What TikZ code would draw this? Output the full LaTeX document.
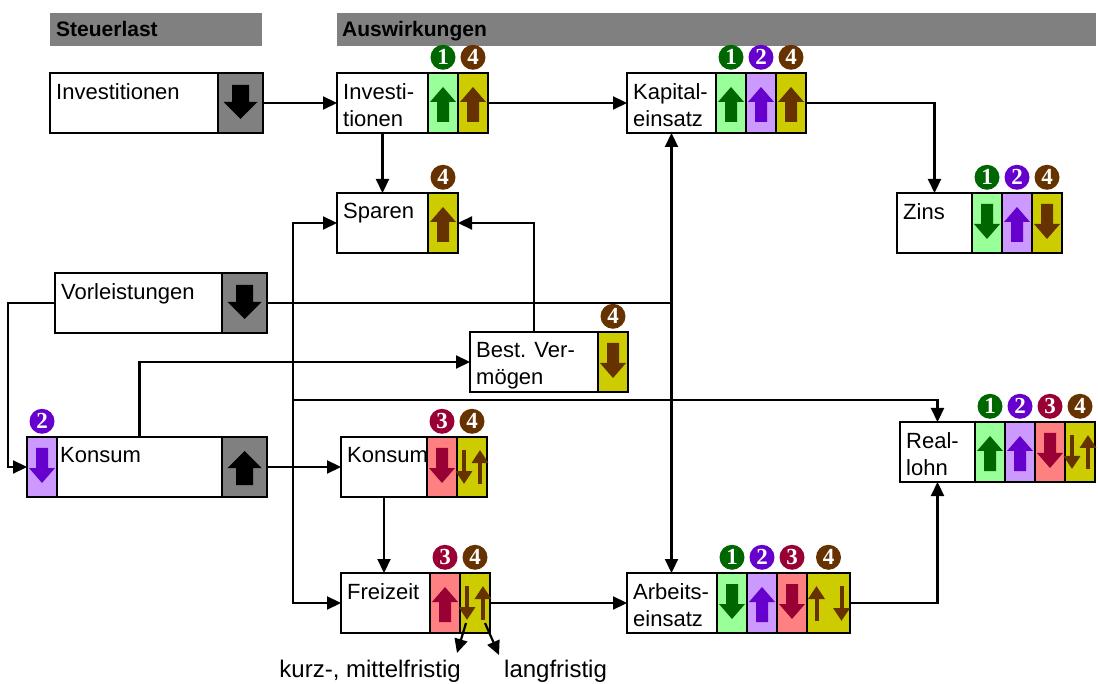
\documentclass[tikz,border=0pt]{standalone}
\usepackage{fontspec}
\setmainfont{Liberation Sans}
\newfontfamily\badgefont{Liberation Serif}
\usetikzlibrary{positioning,calc,arrows.meta}

\definecolor{gbg}{HTML}{99FF99} \definecolor{gfg}{HTML}{006600}
\definecolor{pbg}{HTML}{CC99FF} \definecolor{pfg}{HTML}{6600CC}
\definecolor{rbg}{HTML}{FF8080} \definecolor{rfg}{HTML}{990033}
\definecolor{ybg}{HTML}{CCCC00} \definecolor{yfg}{HTML}{663300}
\definecolor{kbg}{HTML}{808080} \definecolor{kfg}{HTML}{000000}

\tikzset{
    box/.style={draw, line width=2.4pt, fill=white, inner sep=0pt, outer sep=0pt,
        minimum height=60pt, anchor=north west},
    lbl/.style={anchor=north west, inner sep=0pt, align=left,
        font=\fontsize{22}{27}\selectfont},
    cell/.style={draw, line width=2.4pt, fill=#1bg, inner sep=0pt, outer sep=0pt,
        minimum width=30pt, minimum height=60pt, anchor=west},
    badge/.style={circle, fill=#1fg, text=white, inner sep=0pt, minimum size=25pt,
        font=\badgefont\bfseries\fontsize{23}{23}\selectfont},
    head/.style={anchor=base west, inner sep=0pt, font=\bfseries\fontsize{21}{21}\selectfont},
    note/.style={inner sep=0pt, font=\fontsize{24}{24}\selectfont},
    conn/.style={line width=2.2pt, ->},
    wire/.style={line width=2.2pt}
}

% badge numbers
\newcommand\bnumg{1}
\newcommand\bnump{2}
\newcommand\bnumr{3}
\newcommand\bnumy{4}

% arrow signs, #1 colour letter, #2 centre
\newcommand\arup[2]{\fill[fill=#1fg, shift={(#2)}] (0,-16) -- (13,-1) -- (6,-1) -- (6,19) -- (-6,19) -- (-6,-1) -- (-13,-1) -- cycle;}
\newcommand\ardn[2]{\fill[fill=#1fg, shift={(#2)}, yscale=-1] (0,-16) -- (13,-1) -- (6,-1) -- (6,19) -- (-6,19) -- (-6,-1) -- (-13,-1) -- cycle;}
\newcommand\bigup[2]{\fill[fill=#1fg, shift={(#2)}] (0,-16) -- (17,1) -- (8.5,1) -- (8.5,18) -- (-8.5,18) -- (-8.5,1) -- (-17,1) -- cycle;}
\newcommand\bigdn[2]{\fill[fill=#1fg, shift={(#2)}, yscale=-1] (0,-16) -- (17,1) -- (8.5,1) -- (8.5,18) -- (-8.5,18) -- (-8.5,1) -- (-17,1) -- cycle;}
\newcommand\arud[2]{\begin{scope}[shift={(#2)}, draw=#1fg, fill=#1fg, line width=4pt, -{Triangle[length=13pt,width=16pt]}]
    \draw (-8,-17) -- (-8,17); \draw (8,17) -- (8,-17);
  \end{scope}}
\newcommand\ardu[2]{\begin{scope}[shift={(#2)}, draw=#1fg, fill=#1fg, line width=4pt, -{Triangle[length=13pt,width=16pt]}]
    \draw (-12,18) -- (-12,-17); \draw (13,-17) -- (13,18);
  \end{scope}}

% box with text, #1 text inset, #2 name, #3 top left, #4 width, #5 text
\newcommand\bx[5][6]{%
  \node[box, minimum width=#4pt] (#2) at (#3) {};
  \node[lbl] (#2-t) at ([shift={(#1,10)}]#2.north west) {#5};}

% coloured cells right of a box
\newcommand\cells[2]{%
  \coordinate (#1-0) at (#1.east);
  \foreach \kd/\arw/\cw [count=\i, remember=\i as \j (initially 0)] in {#2}{%
    \node[cell=\kd, minimum width=\cw pt] (#1-\i) at (#1-\j.east) {};
    \csname\arw\endcsname{\kd}{#1-\i.center}
    \if k\kd\else
      \node[badge=\kd, above=3pt of #1-\i] (#1-b\i) {\csname bnum\kd\endcsname};
    \fi
  }}

\begin{document}
\begin{tikzpicture}[x=1pt, y=-1pt, >={Triangle[length=14pt,width=13pt]}]
\useasboundingbox (0,0) rectangle (1098,684);

% headings
\fill[kbg] (50,13) rectangle (262,46);
\fill[kbg] (337,13) rectangle (1096,46);
\node[head] (h1) at (56,37) {Steuerlast};
\node[head] (h2) at (342,37) {Auswirkungen};

% tax side
\bx{invL}{50,73}{168}{Investitionen}
\cells{invL}{k/bigdn/45}
\bx{vor}{55,273}{167}{Vorleistungen}
\cells{vor}{k/bigdn/45}
\bx[3]{konL}{57,437}{165}{Konsum}
\cells{konL}{k/bigup/45}
\node[cell=p, anchor=east] (konL-p) at (konL.west) {};
\ardn{p}{konL-p.center}
\node[badge=p, above=3pt of konL-p] (konL-pb) {2};

% effects
\bx{inv}{337,73}{91}{Investi-\\tionen}
\cells{inv}{g/arup/30,y/arup/30}
\bx{kap}{627,73}{89}{Kapital-\\einsatz}
\cells{kap}{g/arup/30,p/arup/30,y/arup/30}
\bx{zins}{897,193}{75}{Zins}
\cells{zins}{g/ardn/30,p/arup/30,y/ardn/30}
\bx{spar}{337,193}{91}{Sparen}
\cells{spar}{y/arup/30}
\bx{best}{470,332}{128}{Best. Ver-\\mögen}
\cells{best}{y/ardn/30}
\bx{kon}{341,437}{86}{Konsum}
\cells{kon}{r/ardn/30,y/arud/30}
\bx{real}{900,422}{75}{Real-\\lohn}
\cells{real}{g/arup/30,p/arup/30,r/ardn/30,y/arud/30}
\bx{frei}{341,573}{89}{Freizeit}
\cells{frei}{r/arup/30,y/arud/30}
\bx{arb}{627,573}{90}{Arbeits-\\einsatz}
\cells{arb}{g/ardn/30,p/arup/30,r/ardn/30,y/ardu/43}

% connectors
\draw[conn] (invL-1.east) -- (inv.west);
\draw[conn] (inv-2.east) -- (kap.west);
\draw[conn] (kap-3.east) -| (zins.north);
\draw[conn] (inv.south) -- (spar.north);
\draw[conn, <->] (kap.south) -- (kap.south |- arb.north);
\draw[wire] (vor-1.east) -- (vor-1.east -| kap.south);
\draw[conn] (vor.west) -- ++(-47,0) |- (konL-p.west);
\draw[conn] (konL.north) |- (best.west);
\draw[conn] (best.north) |- (spar-1.east);
\draw[conn] (konL-1.east) -- (kon.west);
\coordinate (bus) at ($(konL-1.east)!0.35!(kon.west)$);
\draw[conn] (bus) |- (spar.west);
\draw[conn] (bus) |- (frei.west);
\draw[conn] ($(bus)+(0,-67)$) -| (real.north);
\draw[conn] (kon.south) -- (kon.south |- frei.north);
\draw[conn] (frei-2.east) -- (arb.west);
\draw[conn] (arb-4.east) -| (real.south);

% short and long run
\node[note, anchor=north east] (kurz) at (461,660) {kurz-, mittelfristig};
\node[note, anchor=north west] (lang) at (504,660) {langfristig};
\draw[conn] ([shift={(-9,-10)}]frei-2.south) -- ([shift={(-4,-7)}]kurz.north east);
\draw[conn] ([shift={(10,-10)}]frei-2.south) -- ([shift={(-5,-5)}]lang.north west);
\end{tikzpicture}
\end{document}
